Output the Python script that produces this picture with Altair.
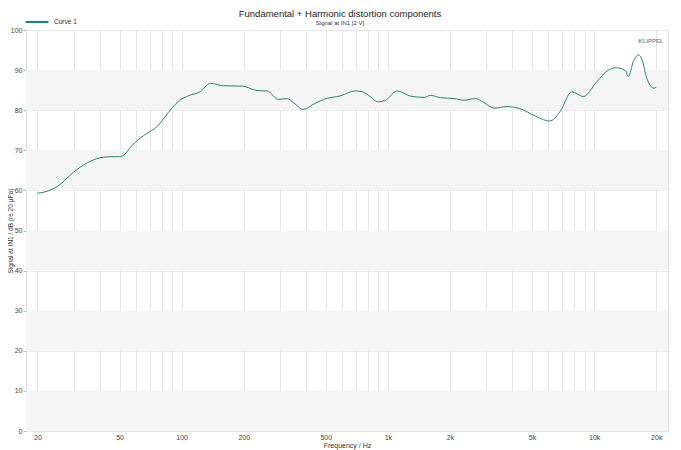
import altair as alt
import pandas as pd

# Frequency response
freq_hz = [20, 22, 25, 30, 35, 40, 45, 50, 53, 57,
           66, 77, 83, 90, 98, 108, 123, 138, 160, 197,
           232, 260, 294, 325, 350, 388, 440, 488, 590, 695,
           750, 823, 890, 960, 1110, 1290, 1500, 1610, 1800, 2095,
           2345, 2660, 2920, 3270, 3780, 4460, 5070, 6090, 6825, 7800,
           8850, 10300, 11560, 12800, 14200, 14650, 15500, 16400, 17100, 18000,
           19500, 20000]
level_db = [59.3, 59.7, 61.0, 64.6, 66.9, 68.1, 68.4, 68.4, 69.0, 71.0,
            73.8, 76.2, 78.3, 80.6, 82.5, 83.6, 84.6, 86.7, 86.1, 86.0,
            84.9, 84.8, 82.7, 82.9, 81.8, 80.2, 81.6, 82.7, 83.6, 84.8,
            84.6, 83.4, 82.1, 82.3, 84.8, 83.5, 83.2, 83.7, 83.1, 82.9,
            82.5, 82.9, 81.9, 80.5, 80.9, 80.2, 78.8, 77.3, 79.6, 84.6,
            83.4, 87.1, 89.8, 90.6, 89.8, 88.4, 92.2, 93.8, 92.5, 87.9,
            85.5, 85.7]
series_name = "Curve 1"
title_text = "Fundamental + Harmonic distortion components"
subtitle_text = "Signal at IN1 [2 V]"

x_grid = [20, 30, 40, 50, 60, 70, 80, 90, 100, 200, 300, 400, 500, 600, 700, 800, 900,
          1000, 2000, 3000, 4000, 5000, 6000, 7000, 8000, 9000, 10000, 20000]
y_ticks = [0, 10, 20, 30, 40, 50, 60, 70, 80, 90, 100]
band_lo = [0, 20, 40, 60, 80]
band_hi = [10, 30, 50, 70, 90]

W, H = 642, 401

df = pd.DataFrame({"f": freq_hz, "db": level_db, "series": series_name})
bands = pd.DataFrame({"lo": band_lo, "hi": band_hi})

xscale = alt.Scale(type="log", domain=[17.6, 22800], nice=False)
yscale = alt.Scale(domain=[0, 100], nice=False)

band_layer = alt.Chart(bands).mark_rect(color="#f5f5f5").encode(
    x=alt.value(0), x2=alt.value(W),
    y=alt.Y("lo:Q", scale=yscale), y2="hi:Q",
)

label_expr = ("indexof([20,50,100,200,500,1000,2000,5000,10000,20000], datum.value) >= 0 ? "
              "(datum.value >= 1000 ? (datum.value/1000) + 'k' : '' + datum.value) : ''")

line = alt.Chart(df).mark_line(strokeWidth=1.0, interpolate="monotone").encode(
    x=alt.X("f:Q", scale=xscale,
            axis=alt.Axis(values=x_grid, labelExpr=label_expr, title="Frequency / Hz",
                          grid=True, gridColor="#dddddd", gridWidth=0.8,
                          labelFontSize=7, labelColor="#444", labelPadding=2,
                          tickSize=0, domain=False, titleFontSize=7,
                          titleFontWeight="normal", titleColor="#333", titlePadding=1,
                          labelFlush=False)),
    y=alt.Y("db:Q", scale=yscale,
            axis=alt.Axis(values=y_ticks, title="Signal at IN1 / dB (re 20 µPa)",
                          grid=True, gridColor="#e8e8e8", gridWidth=0.8,
                          labelFontSize=7, labelColor="#444", labelPadding=1,
                          tickSize=3, tickColor="#bbbbbb", domain=False,
                          titleFontSize=6.5, titleFontWeight="normal", titleColor="#333",
                          titleX=-12.5, titlePadding=0)),
    color=alt.Color("series:N", scale=alt.Scale(range=["#2f7f72"]),
                    legend=alt.Legend(title=None, orient="none", legendX=-2, legendY=-21,
                                      symbolType="stroke", symbolSize=520,
                                      symbolStrokeWidth=2.2, labelFontSize=6.5,
                                      labelColor="#333", direction="horizontal",
                                      padding=0, labelOffset=4)),
)

logo = alt.Chart(pd.DataFrame({"t": ["KLIPPEL"]})).mark_text(
    fontSize=6, fontWeight="bold", color="#6f95b5", align="center", baseline="middle"
).encode(text="t:N", x=alt.value(625), y=alt.value(11))

title_mark = alt.Chart(pd.DataFrame({"t": [title_text]})).mark_text(
    fontSize=9.5, color="#222", align="center", baseline="middle", font="Liberation Sans"
).encode(text="t:N", x=alt.value(314), y=alt.value(-16))

subtitle_mark = alt.Chart(pd.DataFrame({"t": [subtitle_text]})).mark_text(
    fontSize=6, color="#333", align="center", baseline="middle", font="Liberation Sans"
).encode(text="t:N", x=alt.value(314), y=alt.value(-7))

chart = alt.layer(band_layer, line, logo, title_mark, subtitle_mark).properties(
    width=W, height=H,
    autosize=alt.AutoSizeParams(type="none"),
    padding={"left": 18, "top": 22, "right": 5, "bottom": 24},
).configure_view(stroke="#d8d8d8", strokeWidth=1).configure(
    font="Liberation Sans"
).configure_axis(labelFont="Liberation Sans", titleFont="Liberation Sans")

chart.save("out.html", embed_options={"renderer": "svg", "actions": False})
